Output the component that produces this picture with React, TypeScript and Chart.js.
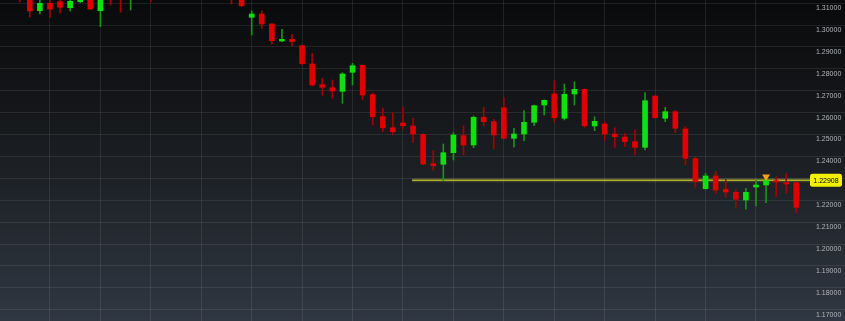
import { useEffect, useRef } from "react";
import { Chart, registerables } from "chart.js";

Chart.register(...registerables);

// OHLC values, one entry per candle (left to right)
const opens = [
  1.317, 1.315, 1.316, 1.3125, 1.30653, 1.30991, 1.31064, 1.3079, 1.31064, 1.3135,
  1.30653, 1.316, 1.315, 1.3125, 1.316, 1.3175, 1.314, 1.317, 1.315, 1.3185,
  1.3165, 1.3145, 1.316, 1.3135, 1.3125, 1.30352, 1.30503, 1.30046, 1.2927, 1.29347,
  1.29055, 1.2822, 1.27274, 1.27137, 1.26973, 1.27841, 1.2816, 1.26818, 1.25813, 1.25311,
  1.25526, 1.25388, 1.25009, 1.23667, 1.2364, 1.24169, 1.24946, 1.24521, 1.25786, 1.25585,
  1.26224, 1.24827, 1.25023, 1.25558, 1.26348, 1.2685, 1.2574, 1.2685, 1.27064, 1.25388,
  1.2548, 1.25023, 1.24886, 1.24672, 1.24416, 1.26758, 1.2574, 1.26041, 1.25252, 1.23895,
  1.22526, 1.23106, 1.22498, 1.22361, 1.2201, 1.22603, 1.22694, 1.22891, 1.228, 1.228,
];
const highs = [
  1.318, 1.3175, 1.317, 1.3135, 1.3118, 1.3112, 1.3116, 1.3118, 1.3125, 1.314,
  1.313, 1.317, 1.316, 1.3165, 1.3185, 1.3185, 1.318, 1.3185, 1.3195, 1.32,
  1.3175, 1.317, 1.317, 1.3145, 1.313, 1.30653, 1.3064, 1.3006, 1.29804, 1.29576,
  1.29087, 1.28708, 1.27567, 1.27489, 1.27822, 1.28252, 1.2818, 1.26882, 1.26197, 1.25996,
  1.26242, 1.2574, 1.2503, 1.24261, 1.24567, 1.25083, 1.25402, 1.25845, 1.26242, 1.25694,
  1.26699, 1.25284, 1.26087, 1.26348, 1.2658, 1.27457, 1.27306, 1.27411, 1.2708, 1.25813,
  1.25585, 1.25311, 1.25055, 1.25206, 1.26909, 1.2677, 1.26242, 1.261, 1.25356, 1.23987,
  1.23229, 1.23334, 1.22955, 1.22498, 1.22544, 1.22922, 1.2294, 1.23073, 1.23229, 1.2282,
];
const lows = [
  1.3135, 1.314, 1.31051, 1.30366, 1.30503, 1.30352, 1.30535, 1.3064, 1.31019, 1.30708,
  1.29923, 1.30914, 1.3058, 1.30685, 1.313, 1.31051, 1.3125, 1.3135, 1.314, 1.315,
  1.313, 1.3125, 1.312, 1.30959, 1.30836, 1.29544, 1.2985, 1.29133, 1.29238, 1.29042,
  1.28174, 1.27215, 1.26804, 1.26653, 1.26425, 1.27261, 1.26576, 1.25434, 1.25128, 1.24978,
  1.25238, 1.24626, 1.23608, 1.23347, 1.22891, 1.23836, 1.24064, 1.24398, 1.25388, 1.24338,
  1.2481, 1.24416, 1.24717, 1.25402, 1.25891, 1.25557, 1.25662, 1.26348, 1.25329, 1.25174,
  1.24717, 1.24416, 1.24444, 1.24064, 1.24292, 1.2575, 1.25585, 1.25083, 1.23608, 1.22589,
  1.22498, 1.22315, 1.22133, 1.21658, 1.21585, 1.21735, 1.21886, 1.2216, 1.22315, 1.2143,
];
const closes = [
  1.315, 1.3165, 1.3125, 1.3064, 1.30991, 1.30731, 1.30809, 1.31083, 1.3118, 1.30731,
  1.3125, 1.313, 1.3125, 1.3155, 1.3175, 1.314, 1.317, 1.315, 1.3185, 1.3165,
  1.3145, 1.316, 1.3135, 1.3125, 1.30882, 1.30503, 1.30046, 1.29284, 1.29347, 1.29238,
  1.28233, 1.27261, 1.27156, 1.26987, 1.27763, 1.28142, 1.26804, 1.25813, 1.25311, 1.25128,
  1.25402, 1.25023, 1.23653, 1.23575, 1.24169, 1.24978, 1.24521, 1.25786, 1.25585, 1.24978,
  1.24827, 1.25023, 1.25558, 1.26316, 1.26562, 1.25767, 1.26836, 1.27064, 1.25402, 1.25603,
  1.25023, 1.249, 1.24672, 1.24416, 1.26544, 1.25767, 1.26041, 1.25284, 1.23914, 1.22845,
  1.23106, 1.22466, 1.22375, 1.22041, 1.22361, 1.22694, 1.22922, 1.22831, 1.2274, 1.21676,
];

// price axis tick labels
const yTicks = [1.31, 1.3, 1.29, 1.28, 1.27, 1.26, 1.25, 1.24, 1.23, 1.22, 1.21, 1.2, 1.19, 1.18, 1.17];
// vertical grid positions (candle indices)
const xGridTicks = [5, 10, 15, 20, 25, 30, 35, 40, 45, 50, 55, 60, 65, 70, 75];

// horizontal level line and marker
const priceLevel = 1.22908;
const priceLineStart = 40.9;
const priceLineEnd = 80.35;
const markerIndex = 76;
const markerValue = 1.23073;

// view window
const X_MIN = 0.045;
const X_MAX = 80.355;
const Y_MIN = 1.16484;
const Y_MAX = 1.31142;

const candleIndex = opens.map((_, i) => i);
const isUp = candleIndex.map((i) => closes[i] >= opens[i]);

const GRID = "rgba(255,255,255,0.085)";

const bgPlugin = {
  id: "bg",
  beforeDraw(chart: any) {
    const { ctx, width, height } = chart;
    const g = ctx.createLinearGradient(0, 0, 0, height);
    g.addColorStop(0, "#090a0b");
    g.addColorStop(0.35, "#15171a");
    g.addColorStop(0.65, "#21262c");
    g.addColorStop(1, "#2f3742");
    ctx.save();
    ctx.fillStyle = g;
    ctx.fillRect(0, 0, width, height);
    ctx.restore();
  },
};

const priceLabelPlugin = {
  id: "priceLabel",
  afterDraw(chart: any) {
    const { ctx, chartArea } = chart;
    const y = chart.scales.y.getPixelForValue(priceLevel);
    const x0 = chartArea.right;
    ctx.save();
    ctx.fillStyle = "#f2f200";
    ctx.beginPath();
    ctx.roundRect(x0, y - 6.5, 32, 13, 2.5);
    ctx.fill();
    ctx.fillStyle = "#000";
    ctx.font = '7px "Liberation Sans"';
    ctx.textAlign = "center";
    ctx.textBaseline = "middle";
    ctx.fillText(priceLevel.toFixed(5), x0 + 16, y + 0.5);
    ctx.restore();
  },
};

const zeroPad = (s: any) => {
  s.paddingTop = 0;
  s.paddingBottom = 0;
  s.paddingLeft = 0;
  s.paddingRight = 0;
};

export default function App() {
  const ref = useRef<HTMLCanvasElement>(null);
  useEffect(() => {
    const canvas = ref.current!;
    const chart = new Chart(canvas, {
      type: "bar",
      data: {
        datasets: [
          {
            type: "scatter",
            data: [{ x: markerIndex, y: markerValue }],
            pointStyle: "triangle",
            rotation: 180,
            radius: 4.5,
            backgroundColor: "#f5a01a",
            borderWidth: 0,
            order: -1,
          } as any,
          {
            type: "bar",
            data: candleIndex.map((i) => ({ x: i, y: [opens[i], closes[i]] })),
            backgroundColor: isUp.map((u) => (u ? "#10e010" : "#e00000")),
            barThickness: 5,
            grouped: false,
            borderWidth: 0,
            order: 0,
          } as any,
          {
            type: "bar",
            data: candleIndex.map((i) => ({ x: i, y: [lows[i], highs[i]] })),
            backgroundColor: isUp.map((u) => (u ? "#159615" : "#a80000")),
            barThickness: 1,
            grouped: false,
            borderWidth: 0,
            order: 1,
          } as any,
          {
            type: "line",
            data: [
              { x: priceLineStart, y: priceLevel },
              { x: priceLineEnd, y: priceLevel },
            ],
            borderColor: "rgba(200,200,50,0.8)",
            borderWidth: 1.5,
            pointRadius: 0,
            order: 3,
          } as any,
          {
            type: "line",
            data: [
              { x: priceLineStart, y: priceLevel },
              { x: priceLineEnd, y: priceLevel },
            ],
            borderColor: "rgba(200,200,50,0.18)",
            borderWidth: 4,
            pointRadius: 0,
            order: 4,
          } as any,
        ],
      },
      options: {
        responsive: false,
        animation: false,
        devicePixelRatio: 1,
        layout: { padding: 0, autoPadding: false },
        plugins: { legend: { display: false }, tooltip: { enabled: false } },
        events: [],
        scales: {
          x: {
            type: "linear",
            offset: false,
            min: X_MIN,
            max: X_MAX,
            afterBuildTicks: (s: any) => {
              s.ticks = xGridTicks.map((v) => ({ value: v }));
            },
            afterFit: (s: any) => {
              s.height = 0;
              zeroPad(s);
            },
            ticks: { display: false },
            grid: { color: GRID, drawTicks: false, lineWidth: 1, offset: false },
            border: { display: false },
          },
          y: {
            type: "linear",
            position: "right",
            min: Y_MIN,
            max: Y_MAX,
            afterBuildTicks: (s: any) => {
              s.ticks = yTicks.map((v) => ({ value: v }));
            },
            afterFit: (s: any) => {
              s.width = 35;
              zeroPad(s);
            },
            ticks: {
              callback: (v: any) => Number(v).toFixed(5),
              color: "#b0b4b8",
              font: { family: "Liberation Sans", size: 7 },
              padding: -29,
              labelOffset: 5,
              crossAlign: "near",
              autoSkip: false,
            },
            grid: { color: GRID, drawTicks: true, tickLength: 35, tickColor: GRID, lineWidth: 1 },
            border: { display: false },
          },
        },
      } as any,
      plugins: [bgPlugin, priceLabelPlugin],
    });
    return () => chart.destroy();
  }, []);
  return (
    <div style={{ position: "absolute", left: 0, top: 0, width: 845, height: 321 }}>
      <canvas ref={ref} width={845} height={321} style={{ display: "block", width: 845, height: 321 }} />
    </div>
  );
}
